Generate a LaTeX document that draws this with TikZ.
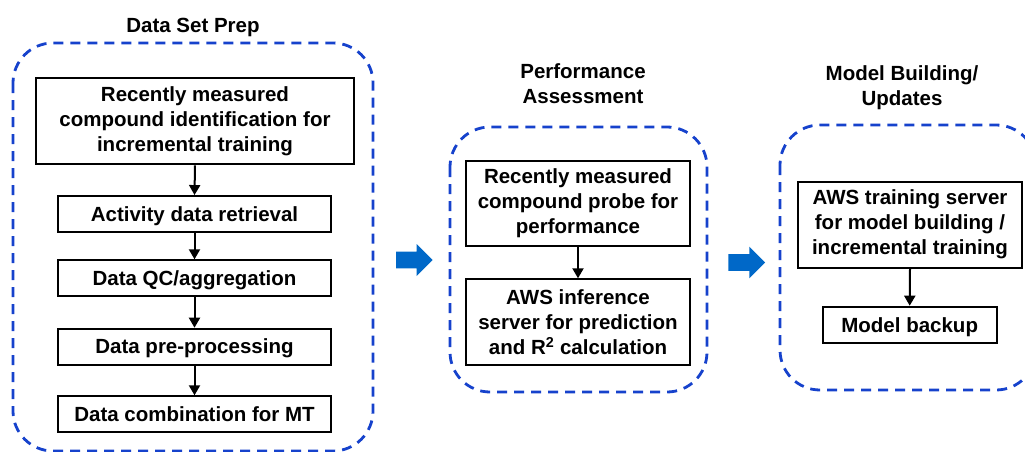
\documentclass[tikz,border=0pt]{standalone}
\usepackage{fontspec}
\setmainfont{Liberation Sans}
\usetikzlibrary{arrows.meta}
\definecolor{groupblue}{RGB}{22,66,204}
\definecolor{flowblue}{RGB}{0,104,200}
\tikzset{
  lbl/.style={font=\bfseries\fontsize{20.5}{25}\selectfont, align=center, inner sep=0pt},
  oneline/.style={execute at begin node=\rule{0pt}{0.9em},
    execute at end node=\rule[-0.21em]{0pt}{0pt}},
  stepbox/.style={lbl, draw=black, line width=2pt, fill=white},
  group/.style={draw=groupblue, line width=2.8pt, rounded corners=40pt, dash pattern=on 10pt off 7pt},
  flow/.style={-{Triangle[length=10pt,width=11pt]}, line width=2pt, black},
  bigarrow/.style={fill=flowblue, draw=none}
}
\begin{document}
\begin{tikzpicture}[x=1pt,y=-1pt]
\useasboundingbox (0,0) rectangle (1025,452);

% dashed group frames
\draw[group] (13,43) rectangle (373,451);
\draw[group] (450,127) rectangle (707,392);
\draw[group] (780,125) rectangle (1036,390);

% group titles
\node[lbl, oneline] (t1) at (193,25) {Data Set Prep};
\node[lbl] (t2) at (583,83.5) {Performance\\Assessment};
\node[lbl] (t3) at (902,87.5) {Model Building/\\Updates};

% data set preparation steps
\node[stepbox, minimum width=318pt, minimum height=86.6pt] (d1) at (195,121) {Recently measured\\compound identification for\\incremental training};
\node[stepbox, oneline, minimum width=273pt, minimum height=36.3pt] (d2) at (194.5,214.2) {Activity data retrieval};
\node[stepbox, oneline, minimum width=273pt, minimum height=36pt] (d3) at (194.5,278.3) {Data QC/aggregation};
\node[stepbox, oneline, minimum width=273pt, minimum height=36pt] (d4) at (194.5,346.7) {Data pre-processing};
\node[stepbox, oneline, minimum width=273pt, minimum height=36pt] (d5) at (194.5,414.3) {Data combination for MT};

% performance assessment steps
\node[stepbox, minimum width=224pt, minimum height=85pt] (p1) at (578,203.2) {Recently measured\\compound probe for\\performance};
\node[stepbox, minimum width=224pt, minimum height=86pt] (p2) at (578,322.3) {AWS inference\\server for prediction\\and R\textsuperscript{2} calculation};

% model building steps
\node[stepbox, minimum width=224.6pt, minimum height=86pt] (m1) at (910,224.7) {AWS training server\\for model building /\\incremental training};
\node[stepbox, oneline, minimum width=174pt, minimum height=36.6pt] (m2) at (909.7,325) {Model backup};

% connectors
\draw[flow] (d1.south) -- (d2.north);
\draw[flow] (d2.south) -- (d3.north);
\draw[flow] (d3.south) -- (d4.north);
\draw[flow] (d4.south) -- (d5.north);
\draw[flow] (p1.south) -- (p2.north);
\draw[flow] (m1.south) -- (m2.north);

% block arrows between stages
\coordinate (a1) at (396,260);
\coordinate (a2) at (728.3,262.5);
\fill[bigarrow] (a1) ++(0,-8.3) -- ++(20.7,0) -- ++(0,-7.7) -- ++(16,16) -- ++(-16,16) -- ++(0,-7.7) -- ++(-20.7,0) -- cycle;
\fill[bigarrow] (a2) ++(0,-8.3) -- ++(21,0) -- ++(0,-7.5) -- ++(15.7,15.8) -- ++(-15.7,15.8) -- ++(0,-7.5) -- ++(-21,0) -- cycle;
\end{tikzpicture}
\end{document}
